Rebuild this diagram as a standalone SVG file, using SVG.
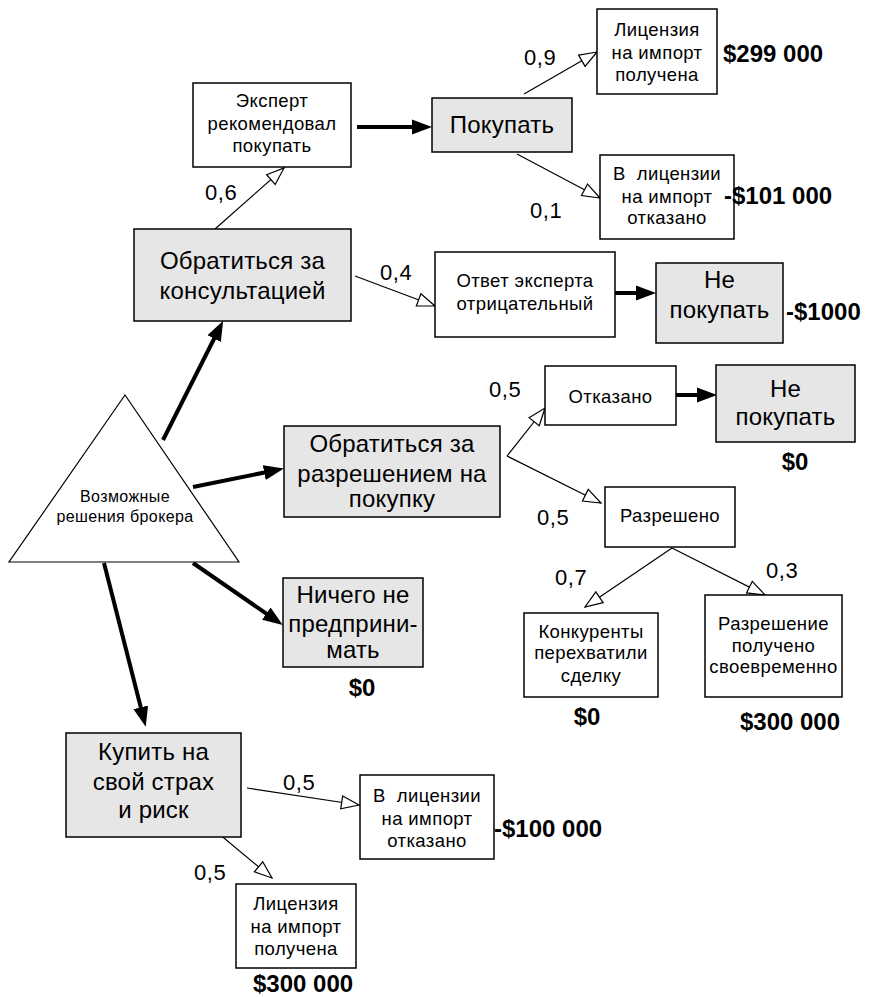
<svg xmlns="http://www.w3.org/2000/svg" width="873" height="997" viewBox="0 0 873 997">
<style>
.b{fill:#fff;stroke:#000;stroke-width:1.5}
.g{fill:#e6e6e6;stroke:#000;stroke-width:1.5}
.s{font-family:"Liberation Sans",Arial,sans-serif;font-size:18.5px;letter-spacing:0.4px;text-anchor:middle;fill:#000}
.l{font-family:"Liberation Sans",Arial,sans-serif;font-size:24px;letter-spacing:0.2px;text-anchor:middle;fill:#000}
.p{font-family:"Liberation Sans",Arial,sans-serif;font-size:22px;letter-spacing:0.6px;fill:#000}
.v{font-family:"Liberation Sans",Arial,sans-serif;font-size:24px;font-weight:bold;letter-spacing:0px;fill:#000}
.t{font-family:"Liberation Sans",Arial,sans-serif;font-size:16px;letter-spacing:0.4px;text-anchor:middle;fill:#000}
.thin{fill:none;stroke:#000;stroke-width:1.2;marker-end:url(#open)}
.thick{fill:none;stroke:#000;stroke-width:4;marker-end:url(#solid)}
</style>
<defs>
<marker id="open" markerWidth="20" markerHeight="16" refX="19" refY="8" orient="auto" markerUnits="userSpaceOnUse">
<path d="M1.5,1.5 L19,8 L1.5,14.5 Z" fill="#fff" stroke="#000" stroke-width="1.2"/>
</marker>
<marker id="solid" markerWidth="20" markerHeight="16" refX="13" refY="8" orient="auto" markerUnits="userSpaceOnUse">
<path d="M0,0.5 L20,8 L0,15.5 Z" fill="#000"/>
</marker>
</defs>

<g id="connectors">
<line class="thick" x1="163" y1="440" x2="220" y2="327"/>
<line class="thick" x1="193" y1="487" x2="277" y2="470"/>
<line class="thick" x1="193" y1="563" x2="277" y2="621"/>
<line class="thick" x1="104" y1="563" x2="144" y2="720"/>
<line class="thick" x1="357" y1="127" x2="425" y2="127"/>
<line class="thick" x1="613" y1="293" x2="649" y2="293"/>
<line class="thick" x1="676" y1="395" x2="710" y2="395"/>
<line class="thin" x1="215" y1="229" x2="284" y2="168"/>
<line class="thin" x1="355" y1="276" x2="435" y2="306"/>
<line class="thin" x1="524" y1="94" x2="597" y2="52"/>
<line class="thin" x1="517" y1="154" x2="600" y2="198"/>
<line class="thin" x1="507" y1="456" x2="545" y2="408"/>
<line class="thin" x1="507" y1="456" x2="601" y2="503"/>
<line class="thin" x1="672" y1="548" x2="585" y2="607"/>
<line class="thin" x1="672" y1="548" x2="765" y2="595"/>
<line class="thin" x1="247" y1="788" x2="359" y2="805"/>
<line class="thin" x1="212" y1="828" x2="272" y2="878"/>
</g>

<g id="root">
<polygon points="125,395 9,562 239,562" fill="#fff" stroke="#000" stroke-width="1.2"/>
<text class="t" x="125" y="502">Возможные</text>
<text class="t" x="125" y="522">решения брокера</text>
</g>

<g id="consult">
<rect class="g" x="134" y="229" width="217" height="92"/>
<text class="l" x="242.5" y="269">Обратиться за</text>
<text class="l" x="242.5" y="299">консультацией</text>
</g>

<g id="expert-yes">
<rect class="b" x="193" y="83" width="158" height="84"/>
<text class="s" x="272" y="107">Эксперт</text>
<text class="s" x="272" y="130">рекомендовал</text>
<text class="s" x="272" y="152">покупать</text>
</g>

<g id="buy">
<rect class="g" x="432" y="98" width="140" height="54"/>
<text class="l" x="502" y="133">Покупать</text>
</g>

<g id="lic-ok-1">
<rect class="b" x="597" y="9" width="120" height="85"/>
<text class="s" x="657" y="36">Лицензия</text>
<text class="s" x="657" y="59">на импорт</text>
<text class="s" x="657" y="81">получена</text>
</g>

<g id="lic-no-1">
<rect class="b" x="600" y="155" width="134" height="84"/>
<text class="s" x="667" y="180" xml:space="preserve">В  лицензии</text>
<text class="s" x="667" y="203">на импорт</text>
<text class="s" x="667" y="224">отказано</text>
</g>

<g id="expert-no">
<rect class="b" x="435" y="252" width="180" height="85"/>
<text class="s" x="525" y="287">Ответ эксперта</text>
<text class="s" x="525" y="310">отрицательный</text>
</g>

<g id="nobuy-1">
<rect class="g" x="656" y="263" width="127" height="80"/>
<text class="l" x="719.5" y="288">Не</text>
<text class="l" x="719.5" y="318">покупать</text>
</g>

<g id="permit">
<rect class="g" x="284" y="426" width="216" height="91"/>
<text class="l" x="392" y="452">Обратиться за</text>
<text class="l" x="392" y="482">разрешением на</text>
<text class="l" x="392" y="507">покупку</text>
</g>

<g id="refused">
<rect class="b" x="545" y="366" width="131" height="59"/>
<text class="s" x="610.5" y="403">Отказано</text>
</g>

<g id="nobuy-2">
<rect class="g" x="716" y="365" width="139" height="77"/>
<text class="l" x="785.5" y="397">Не</text>
<text class="l" x="785.5" y="425">покупать</text>
</g>

<g id="allowed">
<rect class="b" x="605" y="487" width="130" height="60"/>
<text class="s" x="670" y="522">Разрешено</text>
</g>

<g id="competitors">
<rect class="b" x="524" y="613" width="134" height="84"/>
<text class="s" x="591" y="638">Конкуренты</text>
<text class="s" x="591" y="659">перехватили</text>
<text class="s" x="591" y="682">сделку</text>
</g>

<g id="ontime">
<rect class="b" x="705" y="595" width="137" height="102"/>
<text class="s" x="773.5" y="630">Разрешение</text>
<text class="s" x="773.5" y="652">получено</text>
<text class="s" x="773.5" y="673">своевременно</text>
</g>

<g id="nothing">
<rect class="g" x="283" y="578" width="140" height="89"/>
<text class="l" x="353" y="603">Ничего не</text>
<text class="l" x="353" y="632">предприни-</text>
<text class="l" x="353" y="658">мать</text>
</g>

<g id="risk">
<rect class="g" x="66" y="733" width="175" height="104"/>
<text class="l" x="153.5" y="760">Купить на</text>
<text class="l" x="153.5" y="790">свой страх</text>
<text class="l" x="153.5" y="818">и риск</text>
</g>

<g id="lic-no-2">
<rect class="b" x="360" y="775" width="134" height="84"/>
<text class="s" x="427" y="802" xml:space="preserve">В  лицензии</text>
<text class="s" x="427" y="825">на импорт</text>
<text class="s" x="427" y="847">отказано</text>
</g>

<g id="lic-ok-2">
<rect class="b" x="236" y="884" width="120" height="84"/>
<text class="s" x="296" y="910">Лицензия</text>
<text class="s" x="296" y="933">на импорт</text>
<text class="s" x="296" y="955">получена</text>
</g>

<g id="labels">
<text class="p" x="205" y="200">0,6</text>
<text class="p" x="524" y="65">0,9</text>
<text class="p" x="530" y="218">0,1</text>
<text class="p" x="380" y="280">0,4</text>
<text class="p" x="489" y="397">0,5</text>
<text class="p" x="537" y="525">0,5</text>
<text class="p" x="555" y="585">0,7</text>
<text class="p" x="766" y="578">0,3</text>
<text class="p" x="283" y="790">0,5</text>
<text class="p" x="194" y="880">0,5</text>
</g>

<g id="values">
<text class="v" x="723" y="62">$299 000</text>
<text class="v" x="724" y="204">-$101 000</text>
<text class="v" x="786" y="320">-$1000</text>
<text class="v" x="795" y="470" text-anchor="middle">$0</text>
<text class="v" x="362" y="696" text-anchor="middle">$0</text>
<text class="v" x="587" y="725" text-anchor="middle">$0</text>
<text class="v" x="790" y="730" text-anchor="middle">$300 000</text>
<text class="v" x="494" y="837">-$100 000</text>
<text class="v" x="253" y="992">$300 000</text>
</g>
</svg>
